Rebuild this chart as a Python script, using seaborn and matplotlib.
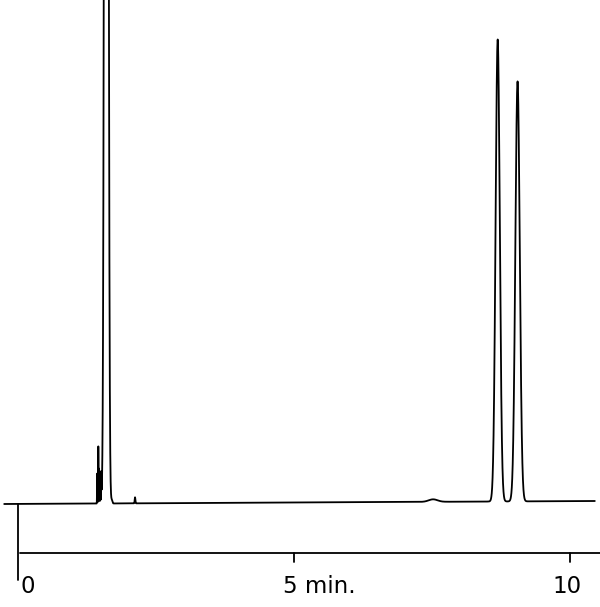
"""
Chromatogram: solvent front near 1.6 min and two resolved peaks near 8.7 and 9.05 min.
"""

## Import packages
import numpy as np
import pandas as pd
import matplotlib
matplotlib.use('Agg')
import matplotlib.pyplot as plt
import seaborn as sns


## Peak table (time in min, height in detector units, width sigma in min)
peak_time = [1.435, 1.455, 1.465, 1.480, 1.495, 1.510, 1.600, 1.70, 2.12, 7.52, 8.69, 9.05]
peak_height = [30, 57, 32, 31, 30, 28, 3010, 3, 6, 2.5, 462, 420]
peak_sigma = [0.003, 0.004, 0.003, 0.003, 0.003, 0.003, 0.025, 0.01, 0.006, 0.08, 0.038, 0.040]

# Baseline drift (detector units at start and end of run)
drift_start = 0
drift_end = 3

# Axis ticks and labels
tick_times = [5, 10]
tick_labels = ['0', '5 min.', '10']
label_times = [0.05, 4.8, 9.95]
label_align = ['left', 'left', 'center']

# Run range
t_start = -0.25
t_end = 10.45


## Build trace from the peak table
t = np.arange(t_start, t_end, 0.0005)
signal = drift_start + (drift_end - drift_start) * (t - t_start) / (t_end - t_start)
for rt, h, s in zip(peak_time, peak_height, peak_sigma):
    signal = signal + h * np.exp(-0.5 * ((t - rt) / s) ** 2)
df = pd.DataFrame({'time': t, 'signal': signal})


## Plot
sns.set_theme(style='white')
plt.rcParams['font.family'] = ['DejaVu Sans']

fig = plt.figure(figsize=(6, 6.07), dpi=100)
ax = fig.add_axes([0, 0, 1, 1])

lw = 1.3
sns.lineplot(data=df, x='time', y='signal', ax=ax, color='black',
             linewidth=lw, estimator=None, sort=False)

# Time axis drawn below the trace
axis_y = -49
ax.plot([0.036, 10.6], [axis_y, axis_y], color='black', linewidth=lw)
ax.plot([0, 0], [0, -76], color='black', linewidth=lw)
for tt in tick_times:
    ax.plot([tt, tt], [axis_y, axis_y - 9], color='black', linewidth=lw)
for lab, tx, ha in zip(tick_labels, label_times, label_align):
    ax.text(tx, -89, lab, ha=ha, va='baseline', fontsize=16.5, color='black')

ax.set_xlim(-18 / 55.2, 582 / 55.2)
ax.set_ylim(-103, 504)
ax.axis('off')

plt.savefig('out.png', dpi=100)
